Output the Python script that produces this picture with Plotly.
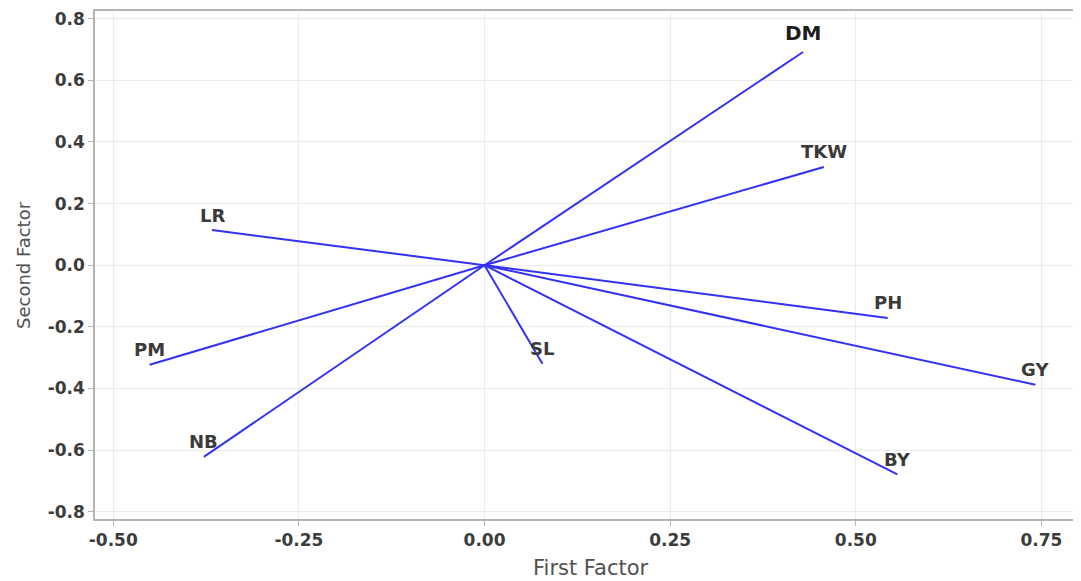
import plotly.graph_objects as go

# Loadings
traits = ["DM", "TKW", "LR", "PM", "NB", "SL", "PH", "GY", "BY"]
first_factor = [0.429, 0.457, -0.367, -0.451, -0.378, 0.078, 0.543, 0.742, 0.556]
second_factor = [0.692, 0.319, 0.114, -0.323, -0.622, -0.320, -0.171, -0.388, -0.679]

x_tick_vals = [-0.50, -0.25, 0.00, 0.25, 0.50, 0.75]
x_tick_text = ["-0.50", "-0.25", "0.00", "0.25", "0.50", "0.75"]
y_tick_vals = [-0.8, -0.6, -0.4, -0.2, 0.0, 0.2, 0.4, 0.6, 0.8]
y_tick_text = ["-0.8", "-0.6", "-0.4", "-0.2", "0.0", "0.2", "0.4", "0.6", "0.8"]

fig = go.Figure()
for name, fx, fy in zip(traits, first_factor, second_factor):
    fig.add_trace(go.Scatter(
        x=[0, fx], y=[0, fy], mode="lines", name=name,
        line=dict(color="#3131f7", width=2), showlegend=False,
        hoverinfo="text", text=[name, name],
    ))

for name, fx, fy in zip(traits, first_factor, second_factor):
    big = name == "DM"
    fig.add_annotation(
        x=fx, y=fy, text=name, showarrow=False,
        xanchor="center", yanchor="middle",
        yshift=19 if big else 15,
        font=dict(family="DejaVu Sans", size=20 if big else 18,
                  color="#1e1e1e" if big else "#3a3a3a", weight="bold"),
    )

axis_common = dict(
    showgrid=True, gridcolor="#ebebeb", gridwidth=1,
    zeroline=False, showline=True, linecolor="#b4b4b4", linewidth=1.5,
    mirror=True, ticks="outside", ticklen=5, tickcolor="#b4b4b4",
    tickfont=dict(family="DejaVu Sans", size=17, color="#3c3c3c", weight="bold"),
)

fig.update_layout(
    width=1073, height=573,
    margin=dict(l=87, r=1, t=2, b=62),
    paper_bgcolor="white", plot_bgcolor="white",
    xaxis=dict(range=[-0.5246, 0.7993], tickvals=x_tick_vals, ticktext=x_tick_text,
               **axis_common),
    yaxis=dict(range=[-0.8236, 0.825], tickvals=y_tick_vals, ticktext=y_tick_text,
               **axis_common),
)

fig.add_annotation(text="First Factor", xref="paper", yref="paper",
                   x=0.505, y=0, yshift=-49, xanchor="center", yanchor="middle",
                   showarrow=False,
                   font=dict(family="DejaVu Sans", size=21, color="#505050"))
fig.add_annotation(text="Second Factor", xref="paper", yref="paper",
                   x=0, y=0.5, xshift=-72, textangle=-90,
                   xanchor="center", yanchor="middle", showarrow=False,
                   font=dict(family="DejaVu Sans", size=18, color="#505050"))

fig.write_html("out.html")
